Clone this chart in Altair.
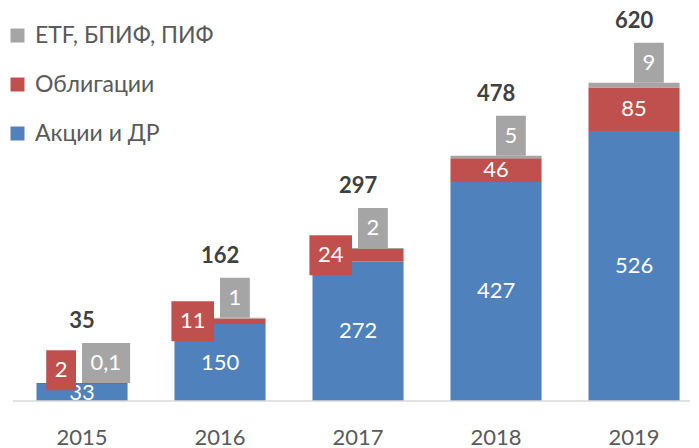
import altair as alt
import pandas as pd

years = ["2015", "2016", "2017", "2018", "2019"]
akcii = [33, 150, 272, 427, 526]
obligacii = [2, 11, 24, 46, 85]
etf = [0.1, 1, 2, 5, 9]
totals = [35, 162, 297, 478, 620]
series = ["ETF, БПИФ, ПИФ", "Облигации", "Акции и ДР"]
colors = ["#A5A5A5", "#C0504D", "#4F81BD"]

def lab(v):
    return (f"{v:g}").replace(".", ",")

long_rows = []
for i, y in enumerate(years):
    long_rows.append({"year": y, "series": series[2], "value": akcii[i], "ord": 0})
    long_rows.append({"year": y, "series": series[1], "value": obligacii[i], "ord": 1})
    long_rows.append({"year": y, "series": series[0], "value": etf[i], "ord": 2})
long_df = pd.DataFrame(long_rows)

wide = pd.DataFrame({
    "year": years, "akc": akcii, "obl": obligacii, "etf": etf, "total": totals,
    "akc_l": [lab(v) for v in akcii], "obl_l": [lab(v) for v in obligacii],
    "etf_l": [lab(v) for v in etf], "tot_l": [lab(v) for v in totals],
})

FONT = "Lato"
xscale = alt.Scale(paddingInner=0.34, paddingOuter=0.1555, align=0.547)
yscale = alt.Scale(domain=[0, 760])
xaxis = alt.Axis(title=None, ticks=False, domain=False, labelAngle=0, grid=False,
                 labelFont=FONT, labelFontSize=22, labelColor="#595959",
                 labelPadding=26)
X = alt.X("year:N", scale=xscale, axis=xaxis, sort=years)

bars = alt.Chart(long_df).mark_bar().encode(
    x=X,
    y=alt.Y("value:Q", stack="zero", scale=yscale, axis=None),
    color=alt.Color("series:N", scale=alt.Scale(domain=series, range=colors),
                    legend=alt.Legend(title=None, orient="none", legendX=-7, legendY=13,
                                      symbolType="square", symbolSize=196,
                                      symbolStrokeWidth=0, labelFont=FONT,
                                      labelFontSize=23, labelColor="#595959",
                                      labelOffset=6, rowPadding=25, padding=0,
                                      labelLimit=400)),
    order=alt.Order("ord:Q"),
)

baseline = alt.Chart(wide).mark_rule(color="#D9D9D9", strokeWidth=1.5).encode(
    x=alt.value(0), x2=alt.value(677), y=alt.value(390)
).transform_filter("datum.year == '2015'")

base = alt.Chart(wide).transform_calculate(
    top="datum.akc + datum.obl + datum.etf",
    akc_mid="datum.akc / 2",
    obl_mid="datum.akc + datum.obl / 2",
    obl_box_y="max(datum.akc + datum.obl / 2, 60)",
    wg="12.8 * length(replace(datum.etf_l, ',', '')) + 5.5 * (length(datum.etf_l) - length(replace(datum.etf_l, ',', ''))) + 17",
    wr="12.8 * length(replace(datum.obl_l, ',', '')) + 5.5 * (length(datum.obl_l) - length(replace(datum.obl_l, ',', ''))) + 17",
)
base = base.transform_calculate(
    gshape="'M0,-1H' + (datum.wg / 20) + 'V1H0Z'",
    rshape="'M' + (-datum.wr / 20) + ',-1H0V1H' + (-datum.wr / 20) + 'Z'",
)

akc_text = base.mark_text(font=FONT, fontSize=22, color="white", baseline="middle").encode(
    x=X, y=alt.Y("akc_mid:Q", scale=yscale, axis=None), text="akc_l:N")

obl_inner = base.transform_filter("datum.obl >= 30").mark_text(
    font=FONT, fontSize=22, color="white", baseline="middle").encode(
    x=X, y=alt.Y("obl_mid:Q", scale=yscale, axis=None), text="obl_l:N")

boxed = base.transform_filter("datum.obl < 30")
obl_box = boxed.mark_point(filled=True, opacity=1, size=1600, strokeWidth=0,
                           color="#C0504D", xOffset=-6).encode(
    x=X, y=alt.Y("obl_box_y:Q", scale=yscale, axis=None),
    shape=alt.Shape("rshape:N", scale=None, legend=None))
obl_box_text = boxed.mark_text(font=FONT, fontSize=22, color="white", baseline="middle",
                               align="right", dx=-14.5).encode(
    x=X, y=alt.Y("obl_box_y:Q", scale=yscale, axis=None), text="obl_l:N")

etf_box = base.mark_point(filled=True, opacity=1, size=1600, strokeWidth=0,
                          color="#A5A5A5", yOffset=-20).encode(
    x=X, y=alt.Y("top:Q", scale=yscale, axis=None),
    shape=alt.Shape("gshape:N", scale=None, legend=None))
etf_text = base.mark_text(font=FONT, fontSize=22, color="white", baseline="middle",
                          align="left", dx=8.5, dy=-20).encode(
    x=X, y=alt.Y("top:Q", scale=yscale, axis=None), text="etf_l:N")

tot_text = base.mark_text(font=FONT, fontSize=22, fontWeight="bold", color="#404040",
                          baseline="middle", dy=-62).encode(
    x=X, y=alt.Y("top:Q", scale=yscale, axis=None), text="tot_l:N")

chart = alt.layer(bars, baseline, akc_text, obl_inner, obl_box, obl_box_text,
                  etf_box, etf_text, tot_text).properties(
    width=686, height=390,
    background="white",
    autosize=alt.AutoSizeParams(type="none"),
    padding={"left": 13, "top": 11, "right": 0, "bottom": 47},
).configure_view(strokeWidth=0, stroke="transparent")

chart.save("out.html", embed_options={"renderer": "svg", "actions": False})
